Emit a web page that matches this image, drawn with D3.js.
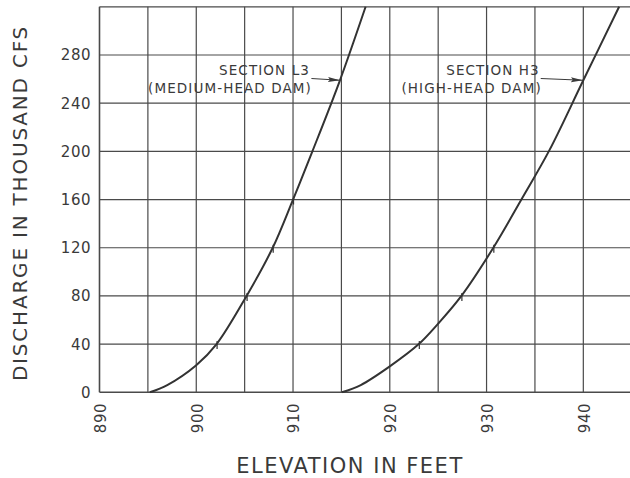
<!DOCTYPE html>
<html><head><meta charset="utf-8">
<script src="https://cdn.jsdelivr.net/npm/d3@7"></script>
<style>
html,body{margin:0;padding:0;background:#fff;}
svg{display:block;}
text{font-family:"DejaVu Sans",sans-serif;fill:#3a3a3a;}
</style></head>
<body>
<svg id="chart" width="630" height="478"></svg>
<script>
// ---- data ----
const xTicks = [890, 900, 910, 920, 930, 940];
const xGrid = [890, 895, 900, 905, 910, 915, 920, 925, 930, 935, 940, 945];
const yTicks = [0, 40, 80, 120, 160, 200, 240, 280];
const yGrid = [0, 40, 80, 120, 160, 200, 240, 280, 320];

const l3Elev = [895.2, 897, 900, 902.1, 905.2, 907.9, 910, 912, 914.85, 917.5];
const l3Q    = [0, 6, 22.5, 40, 80, 120, 160, 200, 259, 320];
const h3Elev = [915.05, 917, 920, 923, 925, 927.4, 930.7, 933.6, 936.5, 940, 943.7];
const h3Q    = [0, 6, 21.5, 40, 57, 80, 120, 160, 201, 259, 320];

// small check-point ticks drawn on curves
const l3MarkElev = [902.1, 905.2, 907.9, 910];
const l3MarkQ    = [40, 80, 120, 160];
const h3MarkElev = [923, 927.4, 930.7];
const h3MarkQ    = [40, 80, 120];

const labels = [
  {lines: ["SECTION L3", "(MEDIUM-HEAD DAM)"], endX: 911.75, arrowFromX: 911.9, tipX: 914.85, tipQ: 259},
  {lines: ["SECTION H3", "(HIGH-HEAD DAM)"], endX: 935.5, arrowFromX: 935.6, tipX: 939.95, tipQ: 259}
];
const xTitle = "ELEVATION IN FEET";
const yTitle = "DISCHARGE IN THOUSAND CFS";

// ---- layout ----
const svg = d3.select("#chart");
const x = d3.scaleLinear().domain([890, 945]).range([99.5, 631.7]);
const y = d3.scaleLinear().domain([0, 320]).range([392.3, 6.8]);
const ink = "#3a3a3a";

svg.append("defs").append("marker")
  .attr("id", "ah").attr("viewBox", "0 0 12 6").attr("refX", 12).attr("refY", 3)
  .attr("markerWidth", 12).attr("markerHeight", 6).attr("markerUnits", "userSpaceOnUse")
  .attr("orient", "auto")
  .append("path").attr("d", "M0,0.5 L12,3 L0,5.5 L2,3 Z").attr("fill", ink);

svg.append("clipPath").attr("id", "plotclip").append("rect")
  .attr("x", x(890) - 1).attr("y", y(320) - 1).attr("width", 640).attr("height", y(0) - y(320) + 2);

const g = svg.append("g");
// grid
g.selectAll(".vg").data(xGrid).join("line")
  .attr("x1", d => x(d)).attr("x2", d => x(d)).attr("y1", y(0)).attr("y2", y(320))
  .attr("stroke", "#4a4a4a").attr("stroke-width", d => d === 890 ? 1.6 : 1.2);
g.selectAll(".hg").data(yGrid).join("line")
  .attr("y1", d => y(d)).attr("y2", d => y(d)).attr("x1", x(890)).attr("x2", 630)
  .attr("stroke", "#4a4a4a").attr("stroke-width", d => d === 0 ? 1.6 : 1.2);

// curves
const line = d3.line().x(d => x(d[0])).y(d => y(d[1])).curve(d3.curveCatmullRom.alpha(0.5));
const plot = svg.append("g").attr("clip-path", "url(#plotclip)");
[[l3Elev, l3Q], [h3Elev, h3Q]].forEach(([e, q]) => {
  plot.append("path").datum(e.map((v, i) => [v, q[i]])).attr("d", line)
    .attr("fill", "none").attr("stroke", "#333").attr("stroke-width", 2);
});
// check marks
[[l3MarkElev, l3MarkQ], [h3MarkElev, h3MarkQ]].forEach(([e, q]) => {
  plot.selectAll(null).data(e.map((v, i) => [v, q[i]])).join("line")
    .attr("x1", d => x(d[0]) + 0.5).attr("x2", d => x(d[0]) + 0.5)
    .attr("y1", d => y(d[1]) - 3).attr("y2", d => y(d[1]) + 5)
    .attr("stroke", "#333").attr("stroke-width", 1.2);
});

// y tick labels
svg.selectAll(".yt").data(yTicks).join("text")
  .attr("x", 91).attr("y", d => y(d)).attr("dy", "0.36em")
  .attr("text-anchor", "end").attr("font-size", 15).attr("letter-spacing", 0.5)
  .text(d => d);
// x tick labels (rotated)
svg.selectAll(".xt").data(xTicks).join("text")
  .attr("transform", d => `translate(${x(d) + 1},403) rotate(-90)`)
  .attr("dy", "0.36em").attr("text-anchor", "end")
  .attr("font-size", 15).attr("letter-spacing", 0.5)
  .text(d => d);

// titles
svg.append("text").attr("x", 350).attr("y", 473).attr("text-anchor", "middle")
  .attr("font-size", 21).attr("letter-spacing", 1.5).text(xTitle);
svg.append("text").attr("transform", "translate(27,203) rotate(-90)")
  .attr("text-anchor", "middle").attr("font-size", 20).attr("letter-spacing", 1.8).text(yTitle);

// annotations
labels.forEach(a => {
  const t = svg.append("text").attr("text-anchor", "end").attr("font-size", 13.5).attr("letter-spacing", 1.1);
  t.append("tspan").attr("x", x(a.endX)).attr("y", 75).text(a.lines[0]);
  t.append("tspan").attr("x", x(a.endX) + 2).attr("y", 93).text(a.lines[1]);
  svg.append("line")
    .attr("x1", x(a.arrowFromX)).attr("y1", 78.5)
    .attr("x2", x(a.tipX)).attr("y2", y(a.tipQ))
    .attr("stroke", ink).attr("stroke-width", 1.1).attr("marker-end", "url(#ah)");
});
</script>
</body></html>
